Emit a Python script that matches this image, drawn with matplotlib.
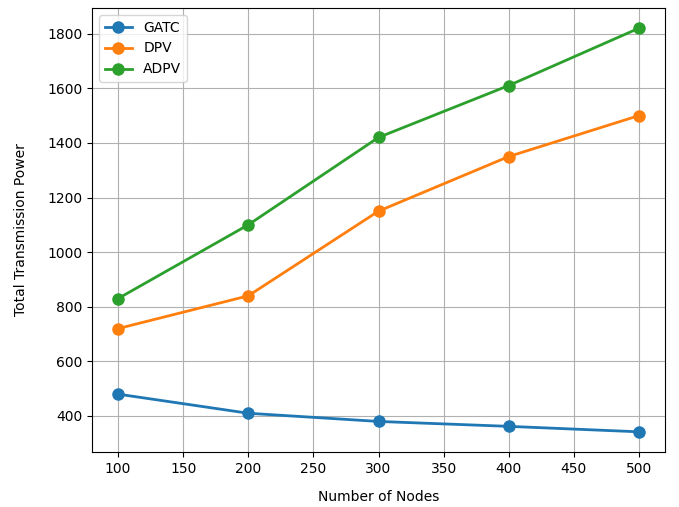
import matplotlib
matplotlib.use("Agg")
import matplotlib.pyplot as plt

nodes = [100, 200, 300, 400, 500]
gatc = [480, 410, 380, 362, 342]
dpv = [720, 840, 1150, 1350, 1500]
adpv = [830, 1100, 1420, 1610, 1820]

fig = plt.figure(figsize=(6.79, 5.07), dpi=100)
ax = fig.add_axes([92/679, 55/507, 573/679, 444/507])
ax.plot(nodes, gatc, marker='o', markersize=8, linewidth=2, label='GATC')
ax.plot(nodes, dpv, marker='o', markersize=8, linewidth=2, label='DPV')
ax.plot(nodes, adpv, marker='o', markersize=8, linewidth=2, label='ADPV')
ax.set_xlabel('Number of Nodes', labelpad=10)
ax.set_ylabel('Total Transmission Power', labelpad=14)
ax.set_xticks([100, 150, 200, 250, 300, 350, 400, 450, 500])
ax.set_yticks([400, 600, 800, 1000, 1200, 1400, 1600, 1800])
ax.grid(True)
ax.legend(loc='upper left')
fig.savefig('out.png', dpi=100)
